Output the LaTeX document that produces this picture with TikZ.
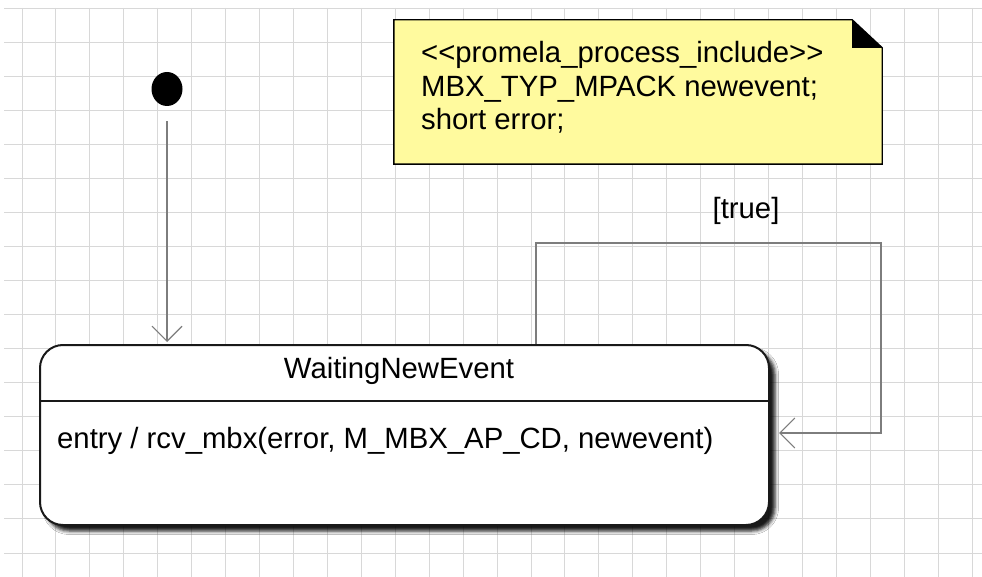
\documentclass[tikz,border=0pt]{standalone}
\usepackage{fontspec}
\setmainfont{Liberation Sans}
\usetikzlibrary{arrows.meta,shapes.geometric,shadows.blur}

\definecolor{gridline}{RGB}{216,216,216}
\definecolor{connline}{RGB}{125,125,125}
\definecolor{noteyellow}{RGB}{255,250,158}
\definecolor{boxline}{RGB}{25,25,25}

\tikzset{
  label text/.style={font=\fontsize{29.3}{34}\selectfont, inner sep=0pt, text=black},
  initdot/.style={ellipse, fill=black, minimum width=31pt, minimum height=34pt, inner sep=0pt},
  statebox/.style={rectangle, draw=boxline, line width=2pt, fill=white,
    rounded corners=23pt, minimum width=729pt, minimum height=180pt, inner sep=0pt,
    blur shadow={shadow xshift=6pt, shadow yshift=-6pt, shadow blur radius=3.5pt,
      shadow opacity=90}},
  notearea/.style={rectangle, minimum width=488pt, minimum height=144pt, inner sep=0pt},
  conn/.style={draw=connline, line width=1.1pt,
    -{Straight Barb[length=15pt, width=30pt, line width=1.1pt]}},
}

\begin{document}
\begin{tikzpicture}[x=1pt, y=-1pt]
\useasboundingbox (0,0) rectangle (982,577);
\fill[white] (0,0) rectangle (982,577);

% background grid
\foreach \k in {0,...,28}
  \draw[gridline, line width=0.9pt] ({22+33.93*\k},8) -- ({22+33.93*\k},577);
\foreach \k in {0,...,16}
  \draw[gridline, line width=0.9pt] (4,{8+34.06*\k}) -- (982,{8+34.06*\k});

% note with folded corner
\node[notearea] (note) at (638,92) {};
\filldraw[fill=noteyellow, draw=black, line width=1.4pt]
  (note.north west) -- ([xshift=-30pt]note.north east)
  -- ([yshift=-28pt]note.north east) -- (note.south east)
  -- (note.south west) -- cycle;
\fill[black] ([xshift=-30pt]note.north east)
  -- ([xshift=-30pt, yshift=-28pt]note.north east)
  -- ([yshift=-28pt]note.north east) -- cycle;
\node[label text, anchor=base west] (noteA) at (421,63) {<{}<promela\_process\_include>{}>};
\node[label text, anchor=base west] (noteB) at (421,97) {MBX\_TYP\_MPACK newevent;};
\node[label text, anchor=base west] (noteC) at (421,130) {short error;};

% initial pseudo state
\node[initdot] (init) at (167,89) {};

% state
\node[statebox] (state) at (404.5,435) {};
\draw[boxline, line width=1.5pt] (state.west |- 0,401) -- (state.east |- 0,401);
\node[label text, anchor=base] (title) at (399,378) {WaitingNewEvent};
\node[label text, anchor=base west] (entry) at (57,448)
  {entry / rcv\_mbx(error, M\_MBX\_AP\_CD, newevent)};

% transitions
\coordinate (loopin) at (779,433);
\draw[conn, shorten <=15pt, shorten >=2pt] (init) -- (init |- state.north);
\draw[conn] (state.north -| 536,0) |- (881,243) |- (loopin);
\node[label text, anchor=base] (guard) at (746,219) {[true]};
\end{tikzpicture}
\end{document}
